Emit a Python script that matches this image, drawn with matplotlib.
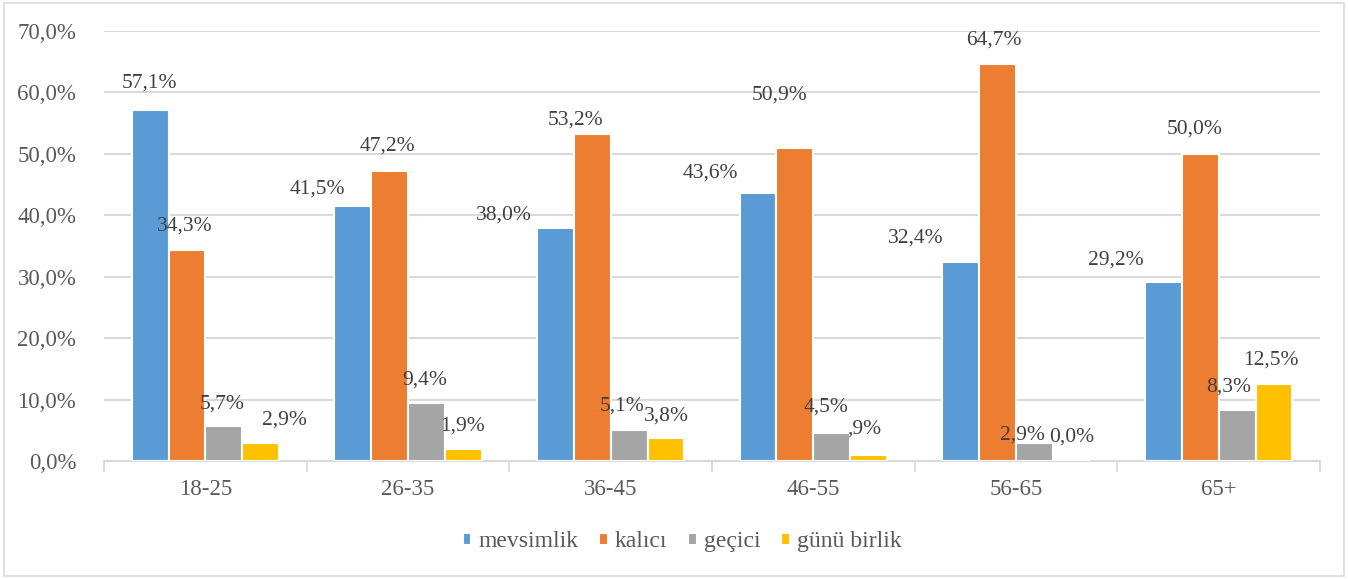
import numpy as np
import matplotlib.pyplot as plt
from matplotlib.patches import Rectangle

groups = ["18-25", "26-35", "36-45", "46-55", "56-65", "65+"]
series = ["mevsimlik", "kalıcı", "geçici", "günü birlik"]
mevsimlik = [57.1, 41.5, 38.0, 43.6, 32.4, 29.2]
kalici = [34.3, 47.2, 53.2, 50.9, 64.7, 50.0]
gecici = [5.7, 9.4, 5.1, 4.5, 2.9, 8.3]
gunu_birlik = [2.9, 1.9, 3.8, 0.9, 0.0, 12.5]
labels_gunu = ["2,9%", "1,9%", "3,8%", ",9%", "0,0%", "12,5%"]

colors = ["#5B9BD5", "#ED7D31", "#A5A5A5", "#FFC000"]

# label nudges (pixels) to follow the original's hand placed labels
label_dx = [[-1, -35, -52, -48, -45, -48],
            [-2, -2, -17, -15, -4, -6],
            [-2, -2, -7, -6, -12, -8],
            [24, -1, 0, -4, 0, -3]]
label_dy = [[27, 17, 13, 20, 24, 22],
            [24, 25, 14, 53, 23, 25],
            [22, 23, 24, 26, 8, 23],
            [23, 23, 22, 26, 24, 24]]

plt.rcParams['font.family'] = ['Liberation Serif', 'DejaVu Serif']

fig = plt.figure(figsize=(13.48, 5.79), dpi=100)
fig.patches.append(Rectangle((0.003, 0.006), 0.994, 0.988, transform=fig.transFigure,
                             fill=False, edgecolor="#d9d9d9", linewidth=1.2))
ax = fig.add_axes([0.0772, 0.2038, 0.9020, 0.7427])

data = [mevsimlik, kalici, gecici, gunu_birlik]
x = np.arange(len(groups))
w = 0.182
for i, vals in enumerate(data):
    pos = x + (i - 1.5) * w
    ax.bar(pos, vals, width=w, color=colors[i], edgecolor="white", linewidth=1.5,
           label=series[i], zorder=3)
    for j, v in enumerate(vals):
        if i == 3:
            txt = labels_gunu[j]
        else:
            txt = ("%.1f%%" % v).replace(".", ",")
        ax.annotate(txt, (pos[j], v), xytext=(label_dx[i][j] * 0.72, label_dy[i][j] * 0.72),
                    textcoords="offset points", ha="center", va="center",
                    fontsize=15.5, color="#404040", zorder=4)

ax.set_xlim(-0.5, len(groups) - 0.5)
ax.set_ylim(0, 70)
ax.set_yticks(np.arange(0, 71, 10))
ax.set_yticklabels([("%.1f%%" % t).replace(".", ",") for t in range(0, 71, 10)])
ax.set_xticks(x)
ax.set_xticklabels(groups)
ax.set_xticks(np.arange(-0.5, len(groups)), minor=True)
ax.tick_params(axis="x", which="major", length=0, pad=13, labelsize=16.5, labelcolor="#595959")
ax.tick_params(axis="x", which="minor", length=8, width=1.3, color="#d9d9d9")
ax.tick_params(axis="y", length=0, pad=20, labelsize=16.5, labelcolor="#595959")
ax.grid(axis="y", color="#d9d9d9", linewidth=1.5, zorder=0)
for s in ["top", "right", "left"]:
    ax.spines[s].set_visible(False)
ax.spines["bottom"].set_color("#d9d9d9")
ax.spines["bottom"].set_linewidth(1.5)
ax.spines["bottom"].set_zorder(2)

fig.legend(loc="center", bbox_to_anchor=(0.506, 0.064), ncol=4, frameon=False,
           fontsize=17, handlelength=0.35, handleheight=0.35, handletextpad=0.3,
           columnspacing=0.9, labelcolor="#595959")

fig.savefig("out.png", dpi=100)
